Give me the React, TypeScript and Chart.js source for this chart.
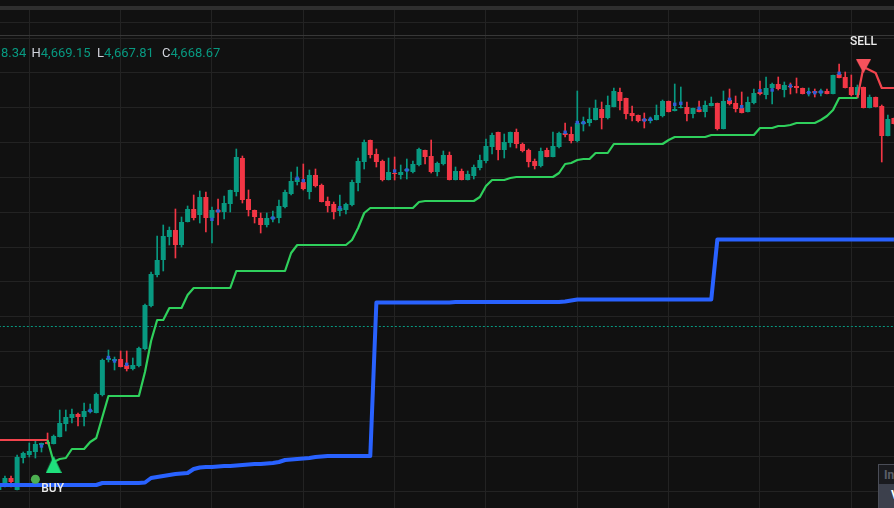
import React, { useEffect, useRef } from "react";
import { Chart, registerables } from "chart.js";

Chart.register(...registerables);

const W = 894;
const H = 508;

// ---------- candle data (index 0 is partially cut at left edge) ----------
const opens = [
  4629.0, 4629.5, 4630.2, 4629.0, 4632.2, 4632.5, 4632.8, 4633.5, 4633.8, 4633.6,
  4634.3, 4635.6, 4636.2, 4636.6, 4636.3, 4636.8, 4636.7, 4638.5, 4642.0, 4641.9,
  4642.1, 4641.5, 4641.1, 4641.4, 4643.1, 4647.4, 4650.5, 4652.0, 4654.3, 4655.0,
  4653.5, 4655.8, 4657.1, 4656.5, 4658.3, 4656.2, 4657.0, 4656.8, 4657.6, 4658.8,
  4662.2, 4658.1, 4657.0, 4656.2, 4655.5, 4656.1, 4656.2, 4657.3, 4658.6, 4659.8,
  4659.8, 4658.8, 4660.5, 4659.5, 4657.9, 4657.6, 4656.9, 4657.0, 4657.5, 4659.7,
  4661.8, 4664.0, 4662.6, 4661.9, 4660.0, 4660.7, 4660.5, 4660.9, 4660.8, 4661.5,
  4663.0, 4662.4, 4660.8, 4661.6, 4662.5, 4660.0, 4660.9, 4660.0, 4660.4, 4661.2,
  4661.9, 4663.3, 4664.8, 4663.0, 4663.7, 4664.8, 4663.6, 4663.0, 4661.9, 4661.4,
  4663.0, 4662.3, 4663.3, 4664.7, 4664.6, 4663.9, 4665.6, 4665.7, 4666.0, 4667.1,
  4666.2, 4667.3, 4668.8, 4668.2, 4666.7, 4666.5, 4666.1, 4665.9, 4666.0, 4666.4,
  4667.9, 4666.9, 4667.2, 4667.3, 4666.6, 4667.1, 4666.8, 4667.4, 4667.7, 4665.1,
  4668.0, 4667.7, 4667.2, 4666.8, 4667.7, 4668.8, 4668.5, 4669.2, 4669.6, 4669.0,
  4669.4, 4669.4, 4669.2, 4668.7, 4668.9, 4668.7, 4668.9, 4668.6, 4670.6, 4670.3,
  4669.3, 4668.5, 4669.3, 4667.2, 4668.3, 4667.4, 4664.4, 4666.2,
];
const highs = [
  4629.8, 4630.4, 4630.4, 4632.5, 4632.8, 4633.7, 4634.0, 4633.7, 4634.7, 4634.5,
  4637.0, 4637.0, 4637.1, 4636.7, 4637.7, 4637.6, 4638.7, 4642.1, 4643.0, 4642.3,
  4642.9, 4642.9, 4642.2, 4643.3, 4647.6, 4650.8, 4654.4, 4655.5, 4655.3, 4657.1,
  4656.3, 4657.4, 4658.5, 4658.9, 4658.8, 4657.3, 4658.1, 4658.4, 4659.0, 4663.1,
  4662.4, 4659.0, 4657.0, 4656.7, 4656.7, 4656.9, 4658.0, 4659.0, 4660.8, 4661.3,
  4661.6, 4661.0, 4661.1, 4659.6, 4658.3, 4657.8, 4658.5, 4657.7, 4660.0, 4662.2,
  4664.0, 4664.0, 4663.1, 4662.0, 4662.2, 4662.3, 4661.5, 4662.1, 4661.9, 4663.2,
  4663.0, 4664.0, 4661.8, 4662.9, 4662.8, 4661.3, 4661.1, 4660.9, 4661.5, 4662.5,
  4664.1, 4664.7, 4664.8, 4664.6, 4664.8, 4665.1, 4663.7, 4663.1, 4662.1, 4663.2,
  4663.2, 4664.8, 4664.8, 4665.7, 4665.3, 4668.9, 4666.3, 4667.2, 4668.0, 4667.8,
  4668.4, 4669.2, 4669.2, 4668.2, 4667.4, 4666.5, 4666.7, 4666.3, 4667.5, 4668.0,
  4667.9, 4669.6, 4669.3, 4667.8, 4667.2, 4667.9, 4667.9, 4668.3, 4667.7, 4668.9,
  4669.1, 4668.4, 4668.8, 4668.3, 4669.1, 4669.9, 4670.3, 4669.7, 4670.3, 4669.8,
  4669.7, 4670.2, 4669.2, 4669.2, 4669.1, 4669.1, 4669.1, 4670.5, 4671.6, 4670.8,
  4670.5, 4669.5, 4669.3, 4668.5, 4668.3, 4667.5, 4666.5, 4666.2,
];
const lows = [
  4628.8, 4629.3, 4629.3, 4629.0, 4631.7, 4632.3, 4632.2, 4632.8, 4633.6, 4633.6,
  4634.3, 4634.9, 4635.7, 4635.4, 4635.4, 4636.7, 4636.7, 4638.4, 4641.8, 4641.0,
  4641.3, 4640.9, 4641.0, 4641.3, 4643.0, 4647.3, 4650.3, 4650.9, 4653.5, 4652.2,
  4653.3, 4655.8, 4656.0, 4655.7, 4654.8, 4653.7, 4655.5, 4656.1, 4656.8, 4658.4,
  4657.7, 4656.4, 4655.7, 4654.7, 4655.3, 4655.8, 4655.7, 4657.2, 4658.5, 4659.5,
  4659.0, 4658.1, 4659.3, 4657.8, 4656.8, 4656.1, 4656.4, 4656.6, 4657.4, 4658.9,
  4661.1, 4662.2, 4661.3, 4659.9, 4660.0, 4660.0, 4660.1, 4660.1, 4660.7, 4661.4,
  4661.6, 4660.7, 4660.4, 4661.5, 4660.0, 4660.0, 4660.0, 4660.0, 4660.1, 4661.0,
  4661.7, 4662.6, 4662.0, 4662.2, 4663.3, 4663.2, 4662.8, 4661.3, 4661.1, 4661.3,
  4662.3, 4662.3, 4663.2, 4664.3, 4663.7, 4663.8, 4664.9, 4665.4, 4666.0, 4665.1,
  4666.1, 4667.3, 4667.0, 4666.1, 4665.9, 4665.8, 4665.2, 4665.7, 4666.0, 4666.3,
  4666.8, 4666.9, 4667.2, 4665.9, 4666.2, 4666.8, 4666.3, 4667.4, 4665.0, 4665.1,
  4667.5, 4666.8, 4666.7, 4666.8, 4667.6, 4668.5, 4668.1, 4667.6, 4669.0, 4668.3,
  4668.6, 4668.7, 4668.6, 4668.4, 4668.3, 4668.4, 4668.6, 4668.6, 4670.2, 4669.2,
  4668.4, 4668.2, 4667.2, 4667.2, 4667.3, 4661.8, 4664.4, 4665.6,
];
const closes = [
  4629.7, 4630.2, 4629.8, 4632.3, 4632.7, 4632.9, 4633.6, 4633.7, 4633.6, 4634.4,
  4635.7, 4636.3, 4636.6, 4636.3, 4636.9, 4637.0, 4638.6, 4642.0, 4642.2, 4642.1,
  4641.3, 4641.1, 4641.5, 4643.2, 4647.5, 4650.6, 4652.0, 4654.4, 4655.0, 4653.5,
  4655.8, 4657.1, 4656.2, 4658.3, 4656.2, 4657.0, 4656.8, 4657.7, 4659.0, 4662.3,
  4658.0, 4657.0, 4656.3, 4655.5, 4656.2, 4656.3, 4657.4, 4658.8, 4659.9, 4660.2,
  4659.1, 4660.5, 4659.4, 4657.8, 4657.4, 4656.8, 4657.2, 4657.6, 4659.8, 4661.9,
  4663.8, 4662.5, 4661.8, 4660.0, 4660.8, 4660.6, 4660.8, 4661.1, 4661.6, 4663.1,
  4662.3, 4660.8, 4661.7, 4662.5, 4660.0, 4660.9, 4660.0, 4660.6, 4661.3, 4662.0,
  4663.4, 4664.5, 4663.0, 4663.8, 4664.8, 4663.6, 4662.9, 4661.8, 4661.4, 4662.9,
  4662.3, 4663.4, 4664.7, 4664.5, 4663.9, 4665.7, 4665.8, 4666.1, 4667.2, 4666.2,
  4667.5, 4668.9, 4667.9, 4666.6, 4666.4, 4665.9, 4665.9, 4666.1, 4666.5, 4667.9,
  4666.8, 4667.1, 4667.3, 4666.6, 4667.2, 4666.8, 4667.5, 4667.7, 4665.1, 4667.9,
  4667.6, 4667.1, 4666.7, 4667.8, 4668.7, 4668.6, 4669.2, 4669.6, 4669.1, 4669.5,
  4669.3, 4669.2, 4668.6, 4668.8, 4668.7, 4668.9, 4668.6, 4670.5, 4670.2, 4669.2,
  4668.5, 4669.3, 4667.2, 4668.3, 4667.3, 4664.4, 4666.1, 4665.6,
];

// ---------- SuperTrend trail (red while bearish, green while bullish) ----------
const supertrend = [
  4634.0, 4634.0, 4634.0, 4634.0, 4634.0, 4634.0, 4634.0, 4634.0, 4634.0, 4631.8,
  4632.1, 4632.2, 4633.1, 4633.1, 4633.1, 4633.8, 4634.2, 4636.3, 4638.4, 4638.4,
  4638.4, 4638.4, 4638.4, 4638.4, 4640.8, 4643.9, 4646.0, 4646.0, 4647.2, 4647.2,
  4647.2, 4648.5, 4649.2, 4649.2, 4649.2, 4649.2, 4649.2, 4649.2, 4649.2, 4650.9,
  4650.9, 4650.9, 4650.9, 4650.9, 4650.9, 4650.9, 4650.9, 4650.9, 4652.7, 4653.5,
  4653.5, 4653.5, 4653.5, 4653.5, 4653.5, 4653.5, 4653.5, 4653.5, 4654.0, 4655.2,
  4656.7, 4657.2, 4657.2, 4657.2, 4657.2, 4657.2, 4657.2, 4657.2, 4657.2, 4657.8,
  4657.9, 4657.9, 4657.9, 4657.9, 4657.9, 4657.9, 4657.9, 4657.9, 4657.9, 4658.3,
  4659.4, 4660.0, 4660.0, 4660.0, 4660.2, 4660.3, 4660.3, 4660.3, 4660.3, 4660.3,
  4660.3, 4660.3, 4660.7, 4661.6, 4661.7, 4662.0, 4662.1, 4662.1, 4662.7, 4662.7,
  4662.7, 4663.6, 4663.6, 4663.6, 4663.6, 4663.6, 4663.6, 4663.6, 4663.6, 4663.6,
  4664.0, 4664.3, 4664.3, 4664.3, 4664.3, 4664.3, 4664.3, 4664.5, 4664.5, 4664.5,
  4664.5, 4664.5, 4664.5, 4664.5, 4664.5, 4665.2, 4665.2, 4665.2, 4665.4, 4665.4,
  4665.5, 4665.7, 4665.7, 4665.7, 4665.7, 4666.0, 4666.4, 4667.0, 4668.2, 4668.2,
  4668.2, 4668.2, 4671.3, 4671.0, 4670.7, 4669.2, 4669.2, 4669.2,
];
const bullStart = 8; // trend flips up here
const bullEnd = 141; // trend flips down here

// ---------- thick blue baseline ----------
const baseline = [
  4629.5, 4629.5, 4629.5, 4629.5, 4629.5, 4629.5, 4629.5, 4629.5, 4629.5, 4629.5,
  4629.5, 4629.5, 4629.5, 4629.5, 4629.5, 4629.5, 4629.5, 4629.7, 4629.7, 4629.7,
  4629.7, 4629.7, 4629.7, 4629.7, 4629.75, 4630.2, 4630.3, 4630.4, 4630.5, 4630.6,
  4630.65, 4630.7, 4631.1, 4631.25, 4631.3, 4631.3, 4631.35, 4631.4, 4631.4, 4631.45,
  4631.5, 4631.55, 4631.6, 4631.6, 4631.65, 4631.7, 4631.8, 4632.0, 4632.05, 4632.1,
  4632.15, 4632.2, 4632.3, 4632.35, 4632.4, 4632.4, 4632.4, 4632.4, 4632.4, 4632.4,
  4632.4, 4632.4, 4647.75, 4647.75, 4647.75, 4647.75, 4647.75, 4647.75, 4647.75, 4647.75,
  4647.75, 4647.75, 4647.75, 4647.75, 4647.75, 4647.8, 4647.8, 4647.8, 4647.8, 4647.8,
  4647.8, 4647.8, 4647.8, 4647.8, 4647.8, 4647.8, 4647.8, 4647.8, 4647.8, 4647.8,
  4647.8, 4647.8, 4647.8, 4647.85, 4647.95, 4648.05, 4648.05, 4648.05, 4648.05, 4648.05,
  4648.05, 4648.05, 4648.05, 4648.05, 4648.05, 4648.05, 4648.05, 4648.05, 4648.05, 4648.05,
  4648.05, 4648.05, 4648.05, 4648.05, 4648.05, 4648.05, 4648.05, 4648.05, 4654.05, 4654.05,
  4654.05, 4654.05, 4654.05, 4654.05, 4654.05, 4654.05, 4654.05, 4654.05, 4654.05, 4654.05,
  4654.05, 4654.05, 4654.05, 4654.05, 4654.05, 4654.05, 4654.05, 4654.05, 4654.05, 4654.05,
  4654.05, 4654.05, 4654.05, 4654.05, 4654.05, 4654.05, 4654.05, 4654.05,
];

// ---------- small blue doji markers ----------
const markIdx = [7, 15, 18, 19, 21, 35, 36, 45, 49, 50, 56, 65, 67, 93, 95, 96, 106, 107, 111, 112, 115, 120, 122, 125, 127, 130, 133, 134, 135, 138];
const markVal = [
  4633.4, 4636.95, 4642.25, 4641.9, 4641.57, 4656.07, 4656.9, 4656.2, 4660.17, 4659.93,
  4657.23, 4660.9, 4661.0, 4664.77, 4665.75, 4665.73, 4666.0, 4666.07, 4667.57, 4667.67,
  4667.17, 4668.07, 4667.33, 4668.93, 4669.0, 4669.4, 4668.73, 4668.73, 4668.8, 4670.67,
];

// ---------- signals ----------
const priceLineValue = 4645.35;
const buyIndex = 9;
const buyValue = 4631.55;
const buyText = "BUY";
const sellIndex = 142;
const sellValue = 4671.37;
const sellText = "SELL";
const dotIndex = 6;
const dotValue = 4630.07;

// ---------- axes / grid ----------
const xMin = 0.189;
const xMax = 147.01;
const yMin = 4627.2;
const yMax = 4678.0;
const xGridIdx = [5, 20, 35, 50, 65, 80, 95, 110, 125, 140];
const yGridValues = [
  4675.77, 4674.2, 4670.715, 4667.23, 4663.745, 4660.26, 4656.775, 4653.29,
  4649.805, 4646.32, 4642.835, 4639.35, 4635.865, 4632.38, 4628.895,
];

// ---------- legend text ----------
const legendOpenTail = "8.34";
const legendHigh = "4,669.15";
const legendLow = "4,667.81";
const legendClose = "4,668.67";

const UP = "#089981";
const DOWN = "#f23645";

function makeTriangle(color: string, w: number, h: number, down: boolean) {
  const c = document.createElement("canvas");
  c.width = w;
  c.height = h;
  const ctx = c.getContext("2d")!;
  ctx.fillStyle = color;
  ctx.beginPath();
  if (down) {
    ctx.moveTo(0, 0);
    ctx.lineTo(w, 0);
    ctx.lineTo(w / 2, h);
  } else {
    ctx.moveTo(w / 2, 0);
    ctx.lineTo(w, h);
    ctx.lineTo(0, h);
  }
  ctx.closePath();
  ctx.fill();
  return c;
}

export default function App() {
  const canvasRef = useRef<HTMLCanvasElement | null>(null);

  useEffect(() => {
    document.body.style.margin = "0";
    document.body.style.background = "#111111";
    const canvas = canvasRef.current;
    if (!canvas) return;

    const idx = opens.map((_, i) => i);
    const candleColors = idx.map((i) => (closes[i] >= opens[i] ? UP : DOWN));

    const buyTri = makeTriangle("#1fe07c", 16, 17, false);
    const sellTri = makeTriangle("#f5525c", 15, 14, true);

    const labelPlugin = {
      id: "signalLabels",
      afterDatasetsDraw(chart: any) {
        const ctx = chart.ctx;
        const xs = chart.scales.x;
        const ys = chart.scales.y;
        ctx.save();
        ctx.font = "500 12px Roboto, 'Noto Sans', sans-serif";
        ctx.fillStyle = "#ececec";
        ctx.textAlign = "center";
        ctx.textBaseline = "middle";
        ctx.fillText(buyText, xs.getPixelForValue(buyIndex) - 1, ys.getPixelForValue(buyValue) + 24);
        ctx.fillText(sellText, xs.getPixelForValue(sellIndex), ys.getPixelForValue(sellValue) - 24.5);
        ctx.restore();
      },
    };

    const chart = new Chart(canvas, {
      type: "bar",
      data: {
        datasets: [
          {
            type: "line",
            data: idx.map((i) => ({ x: i, y: priceLineValue })),
            borderColor: UP,
            borderWidth: 1,
            borderDash: [2, 2],
            pointRadius: 0,
            order: 20,
          } as any,
          {
            type: "bar",
            data: idx.map((i) => ({ x: i, y: [lows[i], highs[i]] })),
            backgroundColor: candleColors,
            barThickness: 1,
            grouped: false,
            borderWidth: 0,
            order: 15,
          } as any,
          {
            type: "bar",
            data: idx.map((i) => ({ x: i, y: [opens[i], closes[i]] })),
            backgroundColor: candleColors,
            barPercentage: 0.82,
            categoryPercentage: 1,
            grouped: false,
            borderWidth: 0,
            minBarLength: 1,
            order: 14,
          } as any,
          {
            type: "line",
            showLine: false,
            data: markIdx.map((m, k) => ({ x: m, y: markVal[k] })),
            pointStyle: "rect",
            pointRadius: 2.4,
            pointBackgroundColor: "#2f5fd6",
            pointBorderWidth: 0,
            order: 13,
          } as any,
          {
            type: "line",
            data: idx.map((i) => ({ x: i, y: baseline[i] })),
            borderColor: "#2962ff",
            borderWidth: 4,
            pointRadius: 0,
            borderJoinStyle: "round",
            order: 12,
          } as any,
          {
            type: "line",
            data: idx.map((i) => ({ x: i, y: i >= bullStart && i <= bullEnd ? supertrend[i] : null })),
            borderColor: "#2fd05c",
            borderWidth: 2.2,
            pointRadius: 0,
            borderJoinStyle: "round",
            order: 11,
          } as any,
          {
            type: "line",
            data: idx.map((i) => ({ x: i, y: i <= bullStart || i >= bullEnd ? supertrend[i] : null })),
            borderColor: "#f2444d",
            borderWidth: 2.2,
            pointRadius: 0,
            borderJoinStyle: "round",
            order: 11,
          } as any,
          {
            type: "line",
            showLine: false,
            data: [{ x: dotIndex, y: dotValue }],
            pointRadius: 4.5,
            pointBackgroundColor: "#4caf50",
            pointBorderWidth: 0,
            order: 6,
          } as any,
          {
            type: "line",
            showLine: false,
            data: [{ x: buyIndex, y: buyValue }],
            pointStyle: buyTri,
            pointRadius: 9,
            order: 4,
          } as any,
          {
            type: "line",
            showLine: false,
            data: [{ x: sellIndex, y: sellValue }],
            pointStyle: sellTri,
            pointRadius: 8,
            order: 4,
          } as any,
        ],
      },
      options: {
        responsive: false,
        animation: false,
        events: [],
        layout: { padding: 0, autoPadding: false },
        plugins: {
          legend: { display: false },
          tooltip: { enabled: false },
        },
        scales: {
          x: {
            type: "linear",
            min: xMin,
            max: xMax,
            offset: false,
            afterBuildTicks: (s: any) => {
              s.ticks = xGridIdx.map((v) => ({ value: v }));
            },
            grid: { color: "#232323", drawTicks: false, tickLength: 0, offset: false },
            border: { display: false },
            ticks: { display: false },
          },
          y: {
            type: "linear",
            min: yMin,
            max: yMax,
            afterBuildTicks: (s: any) => {
              s.ticks = yGridValues.map((v) => ({ value: v }));
            },
            grid: { color: "#232323", drawTicks: false, tickLength: 0 },
            border: { display: false },
            ticks: { display: false },
          },
        },
      } as any,
      plugins: [labelPlugin],
    });

    return () => chart.destroy();
  }, []);

  const label: React.CSSProperties = { color: "#d1d4dc" };
  const val: React.CSSProperties = { color: UP };
  const legendRow: React.CSSProperties = {
    position: "absolute",
    top: 44,
    fontFamily: "Roboto, 'Noto Sans', sans-serif",
    fontSize: 13,
    lineHeight: "17px",
    whiteSpace: "nowrap",
  };

  return (
    <div
      style={{
        position: "relative",
        width: W,
        height: H,
        overflow: "hidden",
        background: "#111111",
      }}
    >
      <canvas ref={canvasRef} width={W} height={H} style={{ display: "block", width: W, height: H }} />
      {/* top chrome */}
      <div style={{ position: "absolute", left: 0, top: 0, width: W, height: 6, background: "#111111" }} />
      <div style={{ position: "absolute", left: 0, top: 6, width: W, height: 4, background: "#2f2f2f" }} />
      <div style={{ position: "absolute", left: 0, top: 35, width: W, height: 1, background: "#383838" }} />
      {/* OHLC legend */}
      <div style={{ ...legendRow, left: 1 }}>
        <span style={val}>{legendOpenTail}</span>
      </div>
      <div style={{ ...legendRow, left: 31.5 }}>
        <span style={label}>H</span>
        <span style={val}>{legendHigh}</span>
      </div>
      <div style={{ ...legendRow, left: 97 }}>
        <span style={label}>L</span>
        <span style={val}>{legendLow}</span>
      </div>
      <div style={{ ...legendRow, left: 162 }}>
        <span style={label}>C</span>
        <span style={val}>{legendClose}</span>
      </div>
      {/* cut-off widget at bottom right */}
      <div
        style={{
          position: "absolute",
          left: 878,
          top: 464,
          width: 40,
          height: 50,
          border: "1px solid #4a4d57",
          background: "#1a1b1f",
          boxSizing: "border-box",
        }}
      >
        <div
          style={{
            position: "absolute",
            left: 5,
            top: 3,
            fontFamily: "Roboto, sans-serif",
            fontWeight: 700,
            fontSize: 12,
            color: "#5b5e68",
          }}
        >
          In
        </div>
        <div
          style={{
            position: "absolute",
            left: 0,
            top: 19,
            width: 40,
            height: 40,
            background: "#3c404c",
          }}
        >
          <div
            style={{
              position: "absolute",
              left: 12,
              top: 4,
              fontFamily: "Roboto, sans-serif",
              fontWeight: 700,
              fontSize: 12,
              color: "#ffffff",
            }}
          >
            V
          </div>
        </div>
      </div>
    </div>
  );
}
